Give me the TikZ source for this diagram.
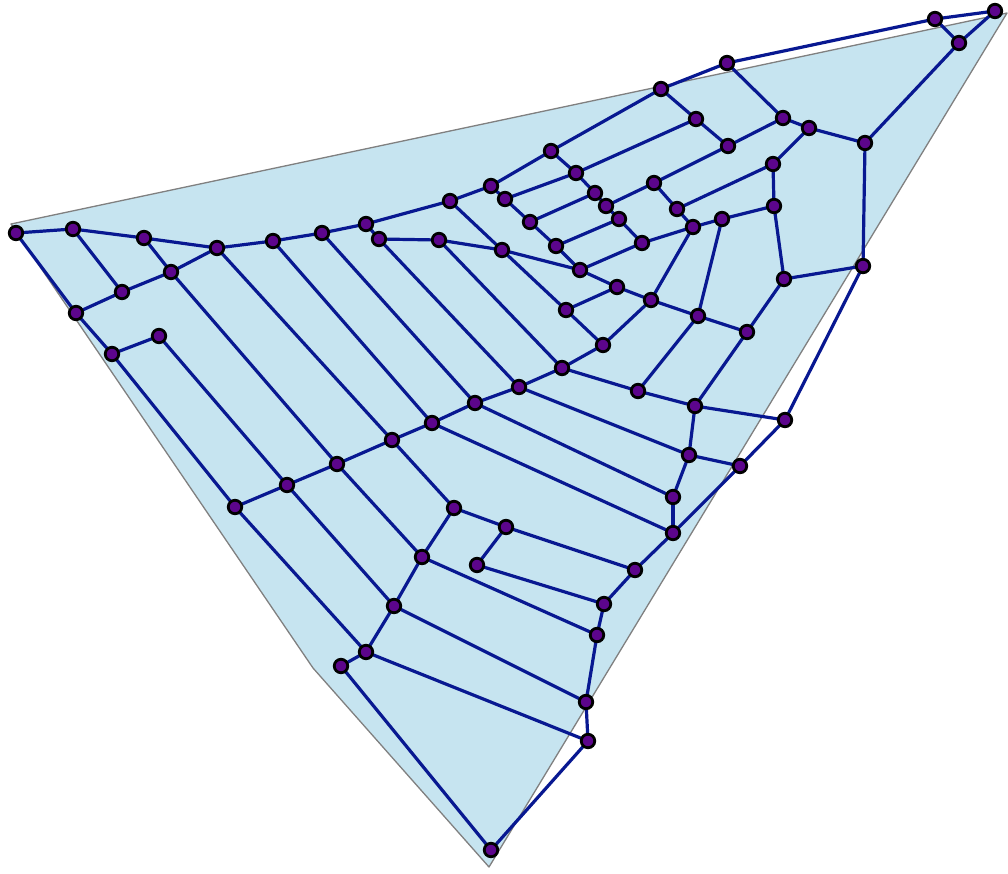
\documentclass[tikz,border=0pt]{standalone}
\definecolor{regionfill}{RGB}{198,228,240}
\definecolor{regionline}{RGB}{128,128,128}
\definecolor{edgeblue}{RGB}{8,24,145}
\definecolor{vtxfill}{RGB}{92,5,140}
\pgfdeclarelayer{bg}
\pgfsetlayers{bg,main}
\tikzset{
  vtx/.style={circle,fill=vtxfill,draw=black,line width=2.8pt,minimum size=13.5pt,inner sep=0pt},
  edg/.style={draw=edgeblue,line width=3.2pt,line cap=round},
  region/.style={fill=regionfill,draw=regionline,line width=1.3pt,line join=round}
}
\begin{document}
\begin{tikzpicture}[x=1pt,y=-1pt]
\useasboundingbox (0,0) rectangle (1008,873);
% nodes
\foreach \nm/\xx/\yy in {
 n1/16/233, n2/73/229, n3/144/238, n4/217/248, n5/273/241, n6/322/233, n7/366/224,
 n8/450/201, n9/491/186, n10/505/199, n11/379/239, n12/439/240, n13/502/250,
 n14/171/272, n15/122/292, n16/76/313, n17/112/354, n18/159/336,
 A/551/151, B/661/89, C/727/63, D/935/19, E/995/11, F/959/43, G/865/143, H/863/266,
 I/784/279, J/785/420, K/740/466, L/695/406, M/689/455, O/673/497, N/673/533,
 P/635/570, Q/604/604, R/597/635, S/586/702, T/588/741, U/491/850, V/341/666,
 W/366/652, X/394/606, Y/287/485, Z/422/557, AA/337/464, BB/392/440, BC/235/507,
 CC/432/423, DD/475/403, EE/519/387, FF/562/368, GG/603/345, HH/566/310,
 II/580/270, RR/617/287, SS/651/300, QQ/642/243, PP/556/246, OO/619/219,
 MM/606/206, LL/595/193, KK/530/222, Bp/576/173, JJ/696/119, VV/728/146,
 WW/783/118, XX/809/128, YY/773/164, ZZ/774/206, UU/677/209, TT/693/227,
 ABp/722/219, NN/654/183, AC/698/316, AD/747/332, AE/638/391, AB/454/508,
 ADp/506/527, AEp/477/565}
 {\node[vtx] (\nm) at (\xx,\yy) {};}
\begin{pgfonlayer}{bg}
\path[region] (11,224) -- (1007,13) -- (489,867) -- (313,668) -- cycle;
\foreach \a/\b in {
 n1/n2, n2/n3, n3/n4, n4/n5, n5/n6, n6/n7, n7/n8, n8/n9, n9/A, A/B, B/C, C/D, D/E,
 E/F, D/F, F/G, G/H, H/I, H/J, J/K, J/L, K/M, K/N, M/L, M/O, O/N, N/P, P/Q, Q/R,
 R/S, S/T, T/U, U/V, V/W, W/X, W/BC, W/T, X/S, X/Y, X/Z, Z/AB, Z/AA, Z/R,
 AB/BB, AB/ADp, ADp/AEp, ADp/P, AEp/Q,
 n1/n16, n16/n17, n16/n15, n15/n2, n15/n14, n14/n3, n14/n4, n14/AA, n17/n18,
 n17/BC, n18/Y, BC/Y, Y/AA, AA/BB, BB/CC, CC/DD, DD/EE, EE/FF, FF/GG, GG/SS, GG/HH,
 n4/BB, n5/CC, n6/DD, n11/EE, n12/FF, n7/n11, n11/n12, n12/n13, n8/n13, n13/HH, n13/II,
 CC/N, DD/O, EE/M, FF/AE,
 n9/n10, n10/Bp, n10/KK, A/Bp, Bp/LL, Bp/JJ, KK/LL, LL/MM, MM/NN, MM/OO, OO/PP,
 OO/QQ, KK/PP, PP/II, II/QQ, II/RR, RR/SS, RR/HH, QQ/TT, NN/UU, NN/VV, UU/TT,
 UU/YY, TT/ABp, TT/SS, ABp/ZZ, ABp/AC, ZZ/YY, ZZ/I, YY/XX, XX/WW, XX/G, WW/VV,
 WW/C, VV/JJ, JJ/B, I/AD, AD/AC, AD/L, AC/SS, AC/AE, AE/L}
 {\draw[edg] (\a.center) -- (\b.center);}
\end{pgfonlayer}
\end{tikzpicture}
\end{document}
